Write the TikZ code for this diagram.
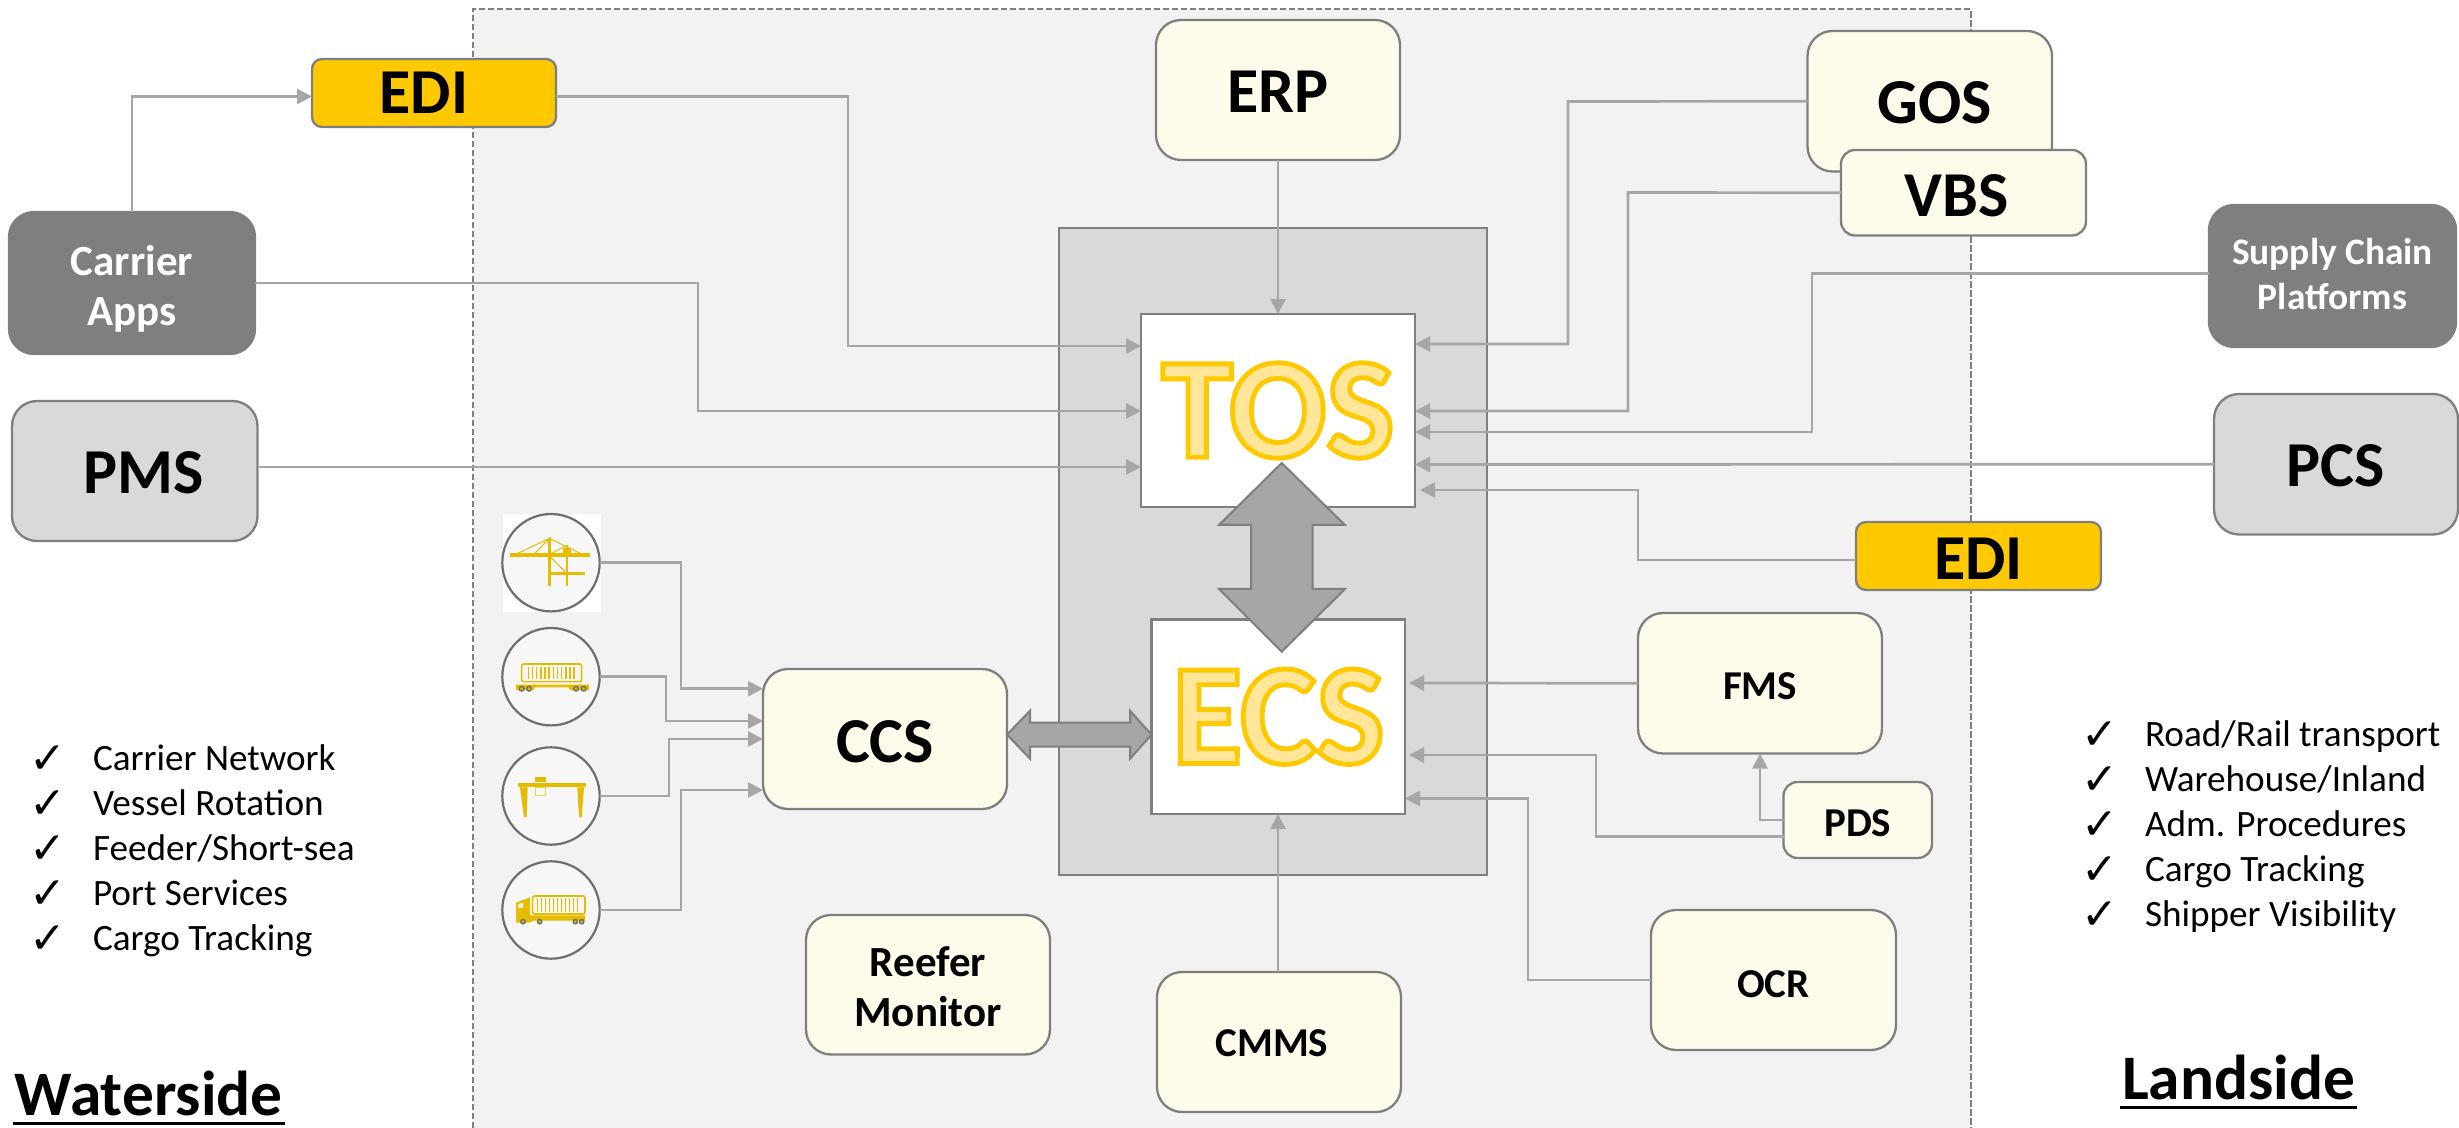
\documentclass[tikz,border=0pt]{standalone}
\usepackage{fontspec}
\setmainfont{Carlito}
\newfontfamily\dejavu{DejaVu Sans}
\usetikzlibrary{arrows.meta}
\definecolor{cream}{HTML}{FFFBEB}
\definecolor{gold}{HTML}{FFC900}
\definecolor{edge}{HTML}{7F7F7F}
\definecolor{wire}{HTML}{A6A6A6}
\definecolor{zone}{HTML}{F2F2F2}
\definecolor{core}{HTML}{D9D9D9}
\definecolor{ico}{HTML}{E6BC00}
\definecolor{ring}{HTML}{6E6E6E}
\tikzset{
 basebox/.style={draw=edge,line width=1.15pt,inner sep=0pt,outer sep=0pt,align=center,rounded corners=#1},
 bigf/.style={font=\fontsize{32}{38}\selectfont\bfseries},
 midf/.style={font=\fontsize{21.5}{25}\selectfont\bfseries},
 smallf/.style={font=\fontsize{20.5}{24}\selectfont\bfseries},
 sysbig/.style={basebox=12.5pt,fill=cream,bigf},
 syssmall/.style={basebox=12.5pt,fill=cream,smallf},
 sysmid/.style={basebox=7pt,fill=cream,bigf},
 ediBox/.style={basebox=5pt,fill=gold,bigf},
 extLight/.style={basebox=12.5pt,fill=core,bigf},
 extDark/.style={basebox=12.5pt,fill=edge,text=white,midf},
 coreBox/.style={basebox=0pt,fill=white,font=\fontsize{72}{80}\selectfont\bfseries},
 iconNode/.style={circle,draw=ring,line width=1.1pt,fill=white!97!black,inner sep=0pt,outer sep=0pt,minimum size=48.7pt},
 conn/.style={draw=wire,line width=1.35pt,-{Triangle[length=7.5pt,width=7.5pt]}},
 fat/.style={fill=wire,draw=edge,line width=1pt,line join=miter},
 listItem/.style={anchor=base west,inner sep=0pt,outer sep=0pt,font=\fontsize{18.6}{22}\selectfont},
 sideTitle/.style={anchor=base west,inner sep=0pt,outer sep=0pt,font=\fontsize{31.7}{38}\selectfont\bfseries},
 icoline/.style={draw=ico,line width=#1},
}
\newcommand\bx[7]{%
 \pgfmathsetmacro\bw{(#5-#3)*0.5}\pgfmathsetmacro\bh{(#6-#4)*0.5}%
 \node[#2,minimum width=\bw pt,minimum height=\bh pt] (#1) at ({(#3+#5)/2},{(#4+#6)/2}) {#7};}
\newcommand\tshift[1]{\hspace*{#1pt}}
\newcommand\vs[2]{\raisebox{-#1pt}[\height][\depth]{#2}}
\newcommand\outlined[1]{\special{pdf:code 2 Tr 2.4 w 1 .79 0 RG 1 .902 .6 rg}#1\special{pdf:code 0 Tr 0 0 0 RG 0 0 0 rg}}
\newcommand\chk{\makebox[29pt][l]{\hspace*{-3pt}\raisebox{-1.5pt}{\dejavu\fontsize{22}{24}\selectfont ✓}}}
\newcommand\chkitem[4]{\node[listItem] (#1) at (#2,#3) {\chk #4};}
\newcommand\ul[1]{\setbox0\hbox{#1}\rlap{\kern-1pt\raisebox{-5pt}{\rule{\dimexpr\wd0+2pt}{1.7pt}}}\box0}
\begin{document}
\begin{tikzpicture}[x=0.5pt,y=-0.5pt]
\useasboundingbox (0,0) rectangle (2459,1128);
% zones
\fill[zone] (473,9) rectangle (1970.5,1128);
\draw[edge,line width=1pt,dash pattern=on 3.2pt off 1.3pt] (473,1128) -- (473,9) -- (1970.5,9) -- (1970.5,1128);
\draw[edge,fill=core,line width=1.2pt] (1059,228) rectangle (1487,875);
% nodes
\bx{ediA}{ediBox}{312}{59}{556}{127}{\tshift{-10}EDI}
\bx{carrier}{extDark}{9}{212}{255}{354}{\vs{2.7}{Carrier}\\\vs{2.7}{Apps}}
\bx{pms}{extLight}{12}{401}{257.5}{541}{\tshift{9}\vs{0.8}{PMS}}
\bx{erp}{sysbig}{1156}{20}{1400}{160}{\vs{0.8}{ERP}}
\bx{gos}{sysbig}{1807.5}{31}{2052}{171.5}{\tshift{5}\vs{0.8}{GOS}}
\bx{vbs}{sysmid}{1841}{150}{2086}{235.5}{\tshift{-7}\vs{1.5}{VBS}}
\bx{scp}{extDark,font=\fontsize{18.7}{22.5}\selectfont\bfseries}{2209}{205}{2456}{347}{\vs{-0.8}{Supply Chain}\\\vs{-0.8}{Platforms}}
\bx{pcs}{extLight}{2214}{394}{2458}{534.5}{\vs{0.8}{PCS}}
\bx{ediB}{ediBox}{1856}{522}{2101}{590}{\vs{1.5}{EDI}}
\bx{tos}{coreBox}{1141}{314}{1415}{507}{\outlined{TOS}}
\bx{ecs}{coreBox}{1151.5}{619.5}{1405}{814}{\outlined{ECS}}
\bx{ccs}{sysbig}{763}{669}{1007}{809}{\vs{1.5}{CCS}}
\bx{fms}{syssmall}{1638}{613}{1882}{753.5}{\vs{1.5}{FMS}}
\bx{pds}{basebox=7pt,fill=cream,smallf}{1783.5}{782}{1932}{858}{\vs{1.5}{PDS}}
\bx{ocr}{syssmall}{1651}{910}{1896}{1050}{\vs{2.3}{OCR}}
\bx{cmms}{syssmall}{1157}{972}{1401}{1112}{\tshift{-7}\vs{0.8}{CMMS}}
\bx{reefer}{basebox=12.5pt,fill=cream,midf}{806}{915}{1050}{1054.5}{\vs{0.8}{Reefer}\\\vs{0.8}{Monitor}}
% icons
\fill[white] (503,514) rectangle (601,611.5);
\node[iconNode] (crane) at (551,562.7) {};
\node[iconNode] (rail) at (551,676.7) {};
\node[iconNode] (gantry) at (551,796) {};
\node[iconNode] (truck) at (551,910) {};
\begin{scope}[shift={(480,480)},x=0.16667pt,y=-0.16667pt]
 % crane
 \fill[ico] (90,220) rectangle (330,230);
 \fill[ico] (204,175) rectangle (212,317);
 \fill[ico] (257,195) rectangle (265,317);
 \fill[ico] (204,275) rectangle (315,284);
 \fill[ico] (248,205) rectangle (272,222);
 \draw[icoline=0.5pt] (110,222) -- (208,175) -- (165,220) (208,175) -- (305,222) (262,195) -- (215,220) (212,232) -- (255,275);
 % rail wagon
 \draw[icoline=0.8pt,rounded corners=1pt] (125,552) rectangle (305,605);
 \foreach \sx in {145,157.5,...,290} \draw[icoline=0.7pt] (\sx,560) -- (\sx,597);
 \fill[ico] (108,614) -- (327,614) -- (327,630) -- (270,630) -- (265,622) -- (165,622) -- (160,630) -- (108,630) -- cycle;
 \foreach \wx in {125,147,288,311} \draw[draw=ring,fill=ico,line width=0.7pt] (\wx,626) circle (7);
 % gantry
 \fill[ico] (115,908) rectangle (318,922);
 \fill[ico] (165,892) rectangle (198,905);
 \draw[draw=ico!70!white,line width=0.5pt] (167,922) rectangle (195,946);
 \fill[ico] (120,922) -- (143,922) -- (140,1012) -- (132,1012) -- cycle;
 \fill[ico] (292,922) -- (312,922) -- (305,1012) -- (297,1012) -- cycle;
 % truck
 \draw[icoline=0.8pt,rounded corners=1pt] (158,1248) rectangle (315,1302);
 \foreach \sx in {172,184,...,302} \draw[icoline=0.7pt] (\sx,1255) -- (\sx,1295);
 \fill[ico] (108,1268) -- (150,1252) -- (150,1306) -- (315,1306) -- (315,1322) -- (160,1322) -- (150,1328) -- (108,1328) -- cycle;
 \fill[white!90!ico] (115,1272) -- (130,1268) -- (130,1282) -- (115,1285) -- cycle;
 \foreach \wx in {129,179,286,305} \draw[draw=ring,fill=ico,line width=0.7pt] (\wx,1325) circle (6.5);
\end{scope}
% connectors into TOS
\draw[conn] (carrier.north -| 132,0) -- (132,96.5) -- (ediA.west |- 0,96.5);
\draw[conn] (ediA.east |- 0,96.5) -- (848,96.5) -- (848,346) -- (tos.west |- 0,346);
\draw[conn] (carrier.east) -- (698,283) -- (698,411) -- (tos.west |- 0,411);
\draw[conn] (pms.east |- 0,467) -- (tos.west |- 0,467);
\draw[conn] (erp.south -| 1278,0) -- (tos.north -| 1278,0);
\draw[conn] (gos.west) -- (1568,101.5) -- (1568,344) -- (tos.east |- 0,344);
\draw[conn] (vbs.west) -- (1628,192.5) -- (1628,411) -- (tos.east |- 0,411);
\draw[conn] (scp.west |- 0,273.5) -- (1812,273.5) -- (1812,432) -- (tos.east |- 0,432);
\draw[conn] (pcs.west) -- (tos.east |- 0,464.5);
\draw[conn] (ediB.west |- 0,560) -- (1638,560) -- (1638,490) -- ([xshift=2.5pt]tos.east |- 0,490);
% connectors into ECS
\draw[conn] (fms.west) -- ([xshift=2pt]ecs.east |- 0,683);
\draw[conn] (pds.west |- 0,836.5) -- (1596,836.5) -- (1596,755) -- ([xshift=2pt]ecs.east |- 0,755);
\draw[conn] (ocr.west) -- (1528,980) -- (1528,798.5) -- (ecs.east |- 0,798.5);
\draw[conn] (pds.west |- 0,820) -- (1760,820) -- (fms.south -| 1760,0);
\draw[conn] (cmms.north -| 1278,0) -- (ecs.south -| 1278,0);
% connectors into CCS
\draw[conn] (crane.east) -- (681,562.7) -- (681,688.7) -- (ccs.west |- 0,688.7);
\draw[conn] (rail.east) -- (666,676.7) -- (666,721) -- (ccs.west |- 0,721);
\draw[conn] (gantry.east) -- (669,796) -- (669,739) -- (ccs.west |- 0,739);
\draw[conn] (truck.east) -- (681,910) -- (681,790) -- (ccs.west |- 0,790);
% big double arrows
\draw[fat] (1281.7,463) -- (1345,525) -- (1312.7,525) -- (1312.7,589) -- (1345,589) -- (1281.7,651.7) -- (1219,589) -- (1251,589) -- (1251,525) -- (1219,525) -- cycle;
\draw[fat] (ccs.east |- 0,734.7) -- (1030,710.7) -- (1030,722.7) -- (1130,722.7) -- (1130,710.7) -- (ecs.west |- 0,734.7) -- (1130,758.7) -- (1130,746.7) -- (1030,746.7) -- (1030,758.7) -- cycle;
% lists
\chkitem{wa}{35}{770}{Carrier Network}
\chkitem{wb}{35}{815}{Vessel Rotation}
\chkitem{wc}{35}{860}{Feeder/Short-sea}
\chkitem{wd}{35}{905}{Port Services}
\chkitem{we}{35}{950}{Cargo Tracking}
\chkitem{la}{2087}{746.5}{Road/Rail transport}
\chkitem{lb}{2087}{791.5}{Warehouse/Inland}
\chkitem{lc}{2087}{836.5}{Adm. Procedures}
\chkitem{ld}{2087}{881.5}{Cargo Tracking}
\chkitem{le}{2087}{926.5}{Shipper Visibility}
\node[sideTitle] (waterside) at (15,1115) {\ul{Waterside}};
\node[sideTitle] (landside) at (2122,1099) {\ul{Landside}};
\end{tikzpicture}
\end{document}
